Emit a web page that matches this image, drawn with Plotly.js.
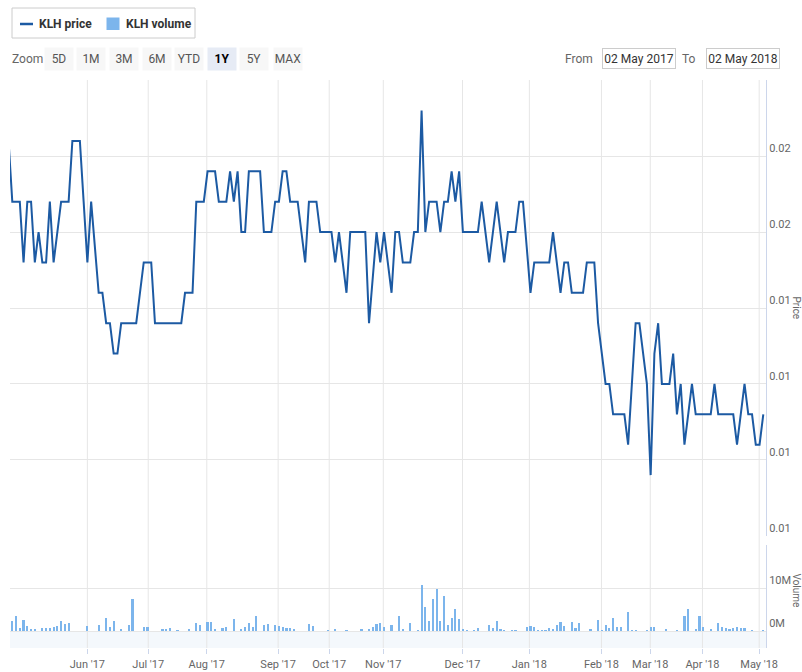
<!DOCTYPE html>
<html>
<head>
<meta charset="utf-8">
<script src="https://cdn.plot.ly/plotly-3.0.1.min.js"></script>
<style>
html,body{margin:0;padding:0;background:#fff;}
#chart{width:802px;height:672px;}
</style>
</head>
<body>
<div id="chart"></div>
<script>
// ---- DATA (ordinal trading days, 1Y range 02 May 2017 - 02 May 2018) ----
const price = [
0.018,
0.016,0.016,0.016,0.014,0.016,0.016,0.014,0.015,0.014,0.014,
0.016,0.014,0.015,0.016,0.016,0.016,0.018,0.018,0.018,0.016,
0.014,0.016,0.0145,0.013,0.013,0.012,0.012,0.011,0.011,0.012,
0.012,0.012,0.012,0.012,0.013,0.014,0.014,0.014,0.012,0.012,
0.012,0.012,0.012,0.012,0.012,0.012,0.013,0.013,0.013,0.016,
0.016,0.016,0.017,0.017,0.017,0.016,0.016,0.016,0.017,0.016,
0.017,0.015,0.015,0.017,0.017,0.017,0.017,0.015,0.015,0.015,
0.016,0.016,0.017,0.017,0.016,0.016,0.016,0.015,0.014,0.016,
0.016,0.016,0.015,0.015,0.015,0.015,0.014,0.015,0.014,0.013,
0.015,0.015,0.015,0.015,0.015,0.012,0.0135,0.015,0.014,0.015,
0.014,0.013,0.015,0.015,0.014,0.014,0.014,0.015,0.015,0.019,
0.015,0.016,0.016,0.016,0.015,0.016,0.016,0.017,0.016,0.017,
0.015,0.015,0.015,0.015,0.015,0.016,0.015,0.014,0.015,0.016,
0.015,0.014,0.015,0.015,0.015,0.016,0.016,0.0145,0.013,0.014,
0.014,0.014,0.014,0.014,0.015,0.014,0.013,0.014,0.014,0.013,
0.013,0.013,0.013,0.014,0.014,0.014,0.012,0.011,0.010,0.010,
0.009,0.009,0.009,0.009,0.008,0.010,0.012,0.012,0.011,0.010,
0.007,0.011,0.012,0.010,0.010,0.010,0.011,0.009,0.010,0.008,
0.009,0.010,0.009,0.009,0.009,0.009,0.009,0.010,0.009,0.009,
0.009,0.009,0.009,0.008,0.009,0.010,0.009,0.009,0.008,0.008,
0.009
];
const volume = [
0,
2400000,3400000,600000,2600000,1200000,400000,550000,0,800000,700000,
800000,1000000,1200000,2400000,1700000,1800000,0,0,0,0,
1200000,0,0,1400000,0,3000000,900000,2400000,0,550000,
0,1400000,7400000,0,0,900000,1000000,0,0,0,
400000,550000,700000,0,240000,0,0,400000,0,1800000,
1400000,0,2100000,2000000,550000,0,640000,900000,0,2900000,
0,550000,900000,1800000,900000,3400000,0,1400000,1600000,0,
1400000,1200000,900000,700000,800000,550000,0,0,0,1600000,
1200000,0,0,0,240000,0,500000,0,0,240000,
0,0,0,500000,0,550000,1000000,1600000,1800000,900000,
0,1400000,0,3600000,550000,0,1800000,0,300000,10800000,
5500000,2300000,7400000,9800000,2300000,8200000,1500000,3100000,5200000,2800000,
550000,300000,0,300000,800000,0,0,1500000,700000,2300000,
550000,300000,0,300000,300000,0,0,1000000,1200000,1000000,
300000,300000,300000,700000,550000,1400000,2100000,1200000,0,2100000,
800000,1900000,0,0,500000,0,2600000,300000,1500000,700000,
3100000,1000000,900000,0,4400000,300000,300000,0,0,300000,
1000000,1000000,0,0,500000,0,0,300000,0,3400000,
5200000,0,500000,3400000,900000,0,550000,0,1800000,900000,
800000,500000,800000,900000,800000,800000,0,300000,0,0,
300000
];
const monthTickPos = [21.0, 37.2, 52.8, 71.8, 85.4, 99.8, 120.9, 138.7, 157.9, 170.9, 184.8, 199.9];
const monthLabels = ["Jun '17","Jul '17","Aug '17","Sep '17","Oct '17","Nov '17","Dec '17","Jan '18","Feb '18","Mar '18","Apr '18","May '18"];
const priceTicks = [0.005, 0.0075, 0.01, 0.0125, 0.015, 0.0175, 0.02];
const priceTickText = ["0.01","0.01","0.01","0.01","0.02","0.02",""];
const volumeTicks = [0, 10000000, 20000000];
const volumeTickText = ["0M","10M",""];
const zoomButtons = ["5D","1M","3M","6M","YTD","1Y","5Y","MAX"];
const selectedButton = "1Y";
const fromDate = "02 May 2017";
const toDate = "02 May 2018";

// ordinal x positions (one slot per trading day)
const tradingDay = price.map((_, i) => i);

// ---- LAYOUT HELPERS ----
const W = 802, H = 672, mL = 10, mR = 36, mT = 80, mB = 24;
const pw = W - mL - mR, ph = H - mT - mB;
const px = x => (x - mL) / pw;
const py = y => (H - mB - y) / ph;
const FONT = "Roboto, 'Liberation Sans', Arial, sans-serif";
const priceColor = '#1c5aa3';
const volColor = '#7cb5ec';

const traces = [
  {type:'bar', x:tradingDay, y:volume, xaxis:'x', yaxis:'y2', name:'KLH volume',
   marker:{color:volColor, line:{width:0}}, width:0.58, hoverinfo:'skip', showlegend:false},
  {type:'scatter', mode:'lines', x:tradingDay, y:price, xaxis:'x', yaxis:'y', name:'KLH price',
   line:{color:priceColor, width:2}, hoverinfo:'skip', showlegend:false}
];

const shapes = [];
shapes.push({type:'rect', xref:'paper', x0:0, x1:1, yref:'y2', y0:-3950000, y1:0,
  fillcolor:'#f4f8fc', line:{width:0}, layer:'below'});
monthTickPos.forEach(k => shapes.push({type:'line', xref:'x', x0:k, x1:k, yref:'paper', y0:0, y1:1,
  line:{color:'#e6e6e6', width:1}, layer:'below'}));
shapes.push({type:'rect', xref:'paper', yref:'paper', x0:px(12), x1:px(195), y0:py(38), y1:py(8),
  line:{color:'#cccccc', width:1}, fillcolor:'#ffffff'});
shapes.push({type:'line', xref:'paper', yref:'paper', x0:px(20), x1:px(33), y0:py(24), y1:py(24),
  line:{color:priceColor, width:2.5}});
shapes.push({type:'rect', xref:'paper', yref:'paper', x0:px(106.5), x1:px(119.5), y0:py(30), y1:py(17.5),
  line:{width:0}, fillcolor:volColor});

const annotations = [];
annotations.push({text:'<b>KLH price</b>', xref:'paper', yref:'paper', x:px(37), y:py(23.5), xanchor:'left', yanchor:'middle',
  showarrow:false, font:{family:FONT, size:12, color:'#333'}});
annotations.push({text:'<b>KLH volume</b>', xref:'paper', yref:'paper', x:px(124), y:py(23.5), xanchor:'left', yanchor:'middle',
  showarrow:false, font:{family:FONT, size:12, color:'#333'}});
annotations.push({text:'Zoom', xref:'paper', yref:'paper', x:px(10), y:py(58.5), xanchor:'left', yanchor:'middle',
  showarrow:false, font:{family:FONT, size:12, color:'#666'}});
const btnCenters = [58.5, 91, 124, 157, 188.5, 222, 254, 287.5];
zoomButtons.forEach((b, i) => {
  const sel = b === selectedButton;
  annotations.push({text: sel ? '<b>'+b+'</b>' : b, xref:'paper', yref:'paper', x:px(btnCenters[i]), y:py(58.5),
    xanchor:'center', yanchor:'middle', showarrow:false, width:28, height:22, borderpad:0,
    bgcolor: sel ? '#e6ebf5' : '#f7f7f7', font:{family:FONT, size:12, color: sel ? '#000' : '#555'}});
});
annotations.push({text:'From', xref:'paper', yref:'paper', x:px(595), y:py(58.5), xanchor:'right', yanchor:'middle',
  showarrow:false, font:{family:FONT, size:12, color:'#666'}});
annotations.push({text:fromDate, xref:'paper', yref:'paper', x:px(639), y:py(58.5), xanchor:'center', yanchor:'middle',
  showarrow:false, width:72, height:19, borderpad:0, bordercolor:'#cccccc', borderwidth:1, bgcolor:'#fff',
  font:{family:FONT, size:12, color:'#333'}});
annotations.push({text:'To', xref:'paper', yref:'paper', x:px(698), y:py(58.5), xanchor:'right', yanchor:'middle',
  showarrow:false, font:{family:FONT, size:12, color:'#666'}});
annotations.push({text:toDate, xref:'paper', yref:'paper', x:px(743), y:py(58.5), xanchor:'center', yanchor:'middle',
  showarrow:false, width:72, height:19, borderpad:0, bordercolor:'#cccccc', borderwidth:1, bgcolor:'#fff',
  font:{family:FONT, size:12, color:'#333'}});
annotations.push({text:'Price', xref:'paper', yref:'paper', x:px(796.5), y:py(308), xanchor:'center', yanchor:'middle',
  textangle:90, showarrow:false, font:{family:FONT, size:10, color:'#666'}});
annotations.push({text:'Volume', xref:'paper', yref:'paper', x:px(796.5), y:py(590), xanchor:'center', yanchor:'middle',
  textangle:90, showarrow:false, font:{family:FONT, size:10, color:'#666'}});

const tickFont = {family:FONT, size:11, color:'#666'};
const layout = {
  width:W, height:H,
  margin:{l:mL, r:mR, t:mT, b:mB, pad:0},
  paper_bgcolor:'#fff', plot_bgcolor:'rgba(0,0,0,0)',
  showlegend:false,
  bargap:0,
  xaxis:{range:[0.39, 201.72], anchor:'y2', tickmode:'array', tickvals:monthTickPos, ticktext:monthLabels,
    showgrid:false, zeroline:false, showline:false, ticks:'outside', ticklen:5, tickcolor:'#ccd6eb',
    tickfont:tickFont, ticklabelstandoff:1, fixedrange:true},
  yaxis:{domain:[py(536), 1], range:[0.004995, 0.020005], side:'right', anchor:'x',
    tickmode:'array', tickvals:priceTicks, ticktext:priceTickText, ticklabelposition:'outside top',
    gridcolor:'#e6e6e6', gridwidth:1, zeroline:false, showline:true, linecolor:'#ccd6eb', linewidth:1,
    ticks:'', tickfont:tickFont, fixedrange:true},
  yaxis2:{domain:[0, py(545)], range:[-3950000, 20020000], side:'right', anchor:'x',
    tickmode:'array', tickvals:volumeTicks, ticktext:volumeTickText, ticklabelposition:'outside top',
    gridcolor:'#e6e6e6', gridwidth:1, zeroline:false, showline:true, linecolor:'#ccd6eb', linewidth:1,
    ticks:'', tickfont:tickFont, fixedrange:true},
  shapes:shapes,
  annotations:annotations
};

Plotly.newPlot('chart', traces, layout, {displayModeBar:false, staticPlot:true});
</script>
</body>
</html>
